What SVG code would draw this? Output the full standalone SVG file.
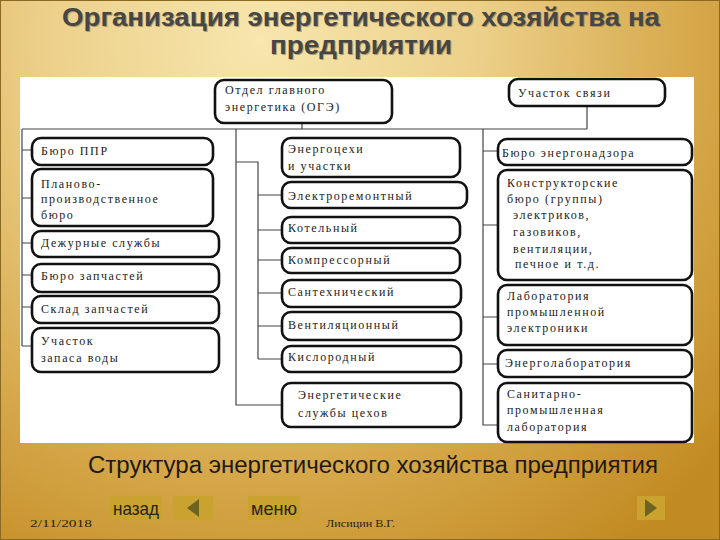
<svg xmlns="http://www.w3.org/2000/svg" width="720" height="540" viewBox="0 0 720 540">
<defs>
<radialGradient id="bg" cx="260" cy="40" r="620" gradientUnits="userSpaceOnUse">
<stop offset="0" stop-color="#f7e6ad"/>
<stop offset="0.35" stop-color="#ecd08a"/>
<stop offset="0.7" stop-color="#d6a84a"/>
<stop offset="1" stop-color="#c28a22"/>
</radialGradient>
<style>
.node rect{fill:#fff;stroke:#111;stroke-width:2.6}
.node text{font-family:"Liberation Serif","DejaVu Serif",serif;font-size:12px;letter-spacing:1.6px;fill:#222}
#connectors path{fill:none;stroke:#444;stroke-width:1.2}
.title{font-family:"Liberation Sans Narrow","Liberation Sans",sans-serif;font-weight:bold;font-size:25px;text-anchor:middle}
.nav{fill:#c9a230}
.navt{font-family:"Liberation Sans Narrow","Liberation Sans",sans-serif;font-size:19px;fill:#2a2410}
.small{font-family:"Liberation Serif",serif;font-size:10px;fill:#2a2410}
</style>
</defs>
<rect x="0" y="0" width="720" height="540" fill="url(#bg)"/>
<rect x="0.5" y="0.5" width="719" height="539" fill="none" stroke="#8a6a22" stroke-width="1"/>
<g id="title">
<text class="title" x="362" y="27" fill="#8a7440" opacity="0.6" textLength="598" lengthAdjust="spacingAndGlyphs">Организация энергетического хозяйства на</text>
<text class="title" x="361" y="26" fill="#464646" textLength="598" lengthAdjust="spacingAndGlyphs">Организация энергетического хозяйства на</text>
<text class="title" x="362" y="55" fill="#8a7440" opacity="0.6" textLength="182" lengthAdjust="spacingAndGlyphs">предприятии</text>
<text class="title" x="361" y="54" fill="#464646" textLength="182" lengthAdjust="spacingAndGlyphs">предприятии</text>
</g>
<rect x="20" y="77" width="674" height="366" fill="#fff"/>
<g id="connectors">
<path d="M302 123V129M22 129H587M587 106V129"/>
<path d="M22 129V346M22 150H32M22 198H32M22 243H32M22 275H32M22 307H32M22 346H32"/>
<path d="M236 129V405H282M236 162H258V359M258 195H282M258 230H282M258 260H282M258 293H282M258 326H282M258 359H282"/>
<path d="M483 129V425H498M483 151H498M483 225H498M483 317H498M483 364H498"/>
</g>
<g id="n-oge" class="node"><rect x="215" y="80" width="177" height="43" rx="9"/><text x="225" y="94">Отдел главного</text><text x="225" y="111">энергетика (ОГЭ)</text></g>
<g id="n-svyaz" class="node"><rect x="509" y="79" width="156" height="27" rx="9"/><text x="518" y="97">Участок связи</text></g>
<g id="n-ppr" class="node"><rect x="32" y="138" width="181" height="27" rx="9"/><text x="41" y="155">Бюро ППР</text></g>
<g id="n-pp" class="node"><rect x="32" y="169" width="181" height="57" rx="9"/><text x="41" y="188">Планово-</text><text x="41" y="203">производственное</text><text x="41" y="219">бюро</text></g>
<g id="n-dezh" class="node"><rect x="32" y="231" width="187" height="26" rx="9"/><text x="41" y="247">Дежурные службы</text></g>
<g id="n-zap" class="node"><rect x="32" y="264" width="187" height="28" rx="9"/><text x="41" y="280">Бюро запчастей</text></g>
<g id="n-sklad" class="node"><rect x="32" y="296" width="187" height="27" rx="9"/><text x="41" y="313">Склад запчастей</text></g>
<g id="n-voda" class="node"><rect x="32" y="328" width="187" height="44" rx="9"/><text x="41" y="345">Участок</text><text x="41" y="362">запаса воды</text></g>
<g id="n-ceh" class="node"><rect x="282" y="138" width="178" height="39" rx="9"/><text x="288" y="153">Энергоцехи</text><text x="288" y="170">и участки</text></g>
<g id="n-elrem" class="node"><rect x="282" y="182" width="185" height="26" rx="9"/><text x="288" y="200">Электроремонтный</text></g>
<g id="n-kotel" class="node"><rect x="282" y="217" width="178" height="26" rx="9"/><text x="288" y="232">Котельный</text></g>
<g id="n-kompr" class="node"><rect x="282" y="248" width="178" height="25" rx="9"/><text x="288" y="264">Компрессорный</text></g>
<g id="n-santeh" class="node"><rect x="282" y="280" width="179" height="27" rx="9"/><text x="288" y="296">Сантехнический</text></g>
<g id="n-vent" class="node"><rect x="282" y="312" width="179" height="28" rx="9"/><text x="288" y="329">Вентиляционный</text></g>
<g id="n-kisl" class="node"><rect x="282" y="346" width="179" height="26" rx="9"/><text x="288" y="361">Кислородный</text></g>
<g id="n-esc" class="node"><rect x="282" y="383" width="179" height="44" rx="9"/><text x="298" y="399">Энергетические</text><text x="298" y="417">службы цехов</text></g>
<g id="n-nadzor" class="node"><rect x="498" y="139" width="194" height="26" rx="9"/><text x="502" y="157">Бюро энергонадзора</text></g>
<g id="n-konstr" class="node"><rect x="498" y="170" width="194" height="110" rx="9"/><text x="507" y="187">Конструкторские</text><text x="507" y="203">бюро (группы)</text><text x="513" y="219">электриков,</text><text x="513" y="236">газовиков,</text><text x="513" y="253">вентиляции,</text><text x="515" y="268">печное и т.д.</text></g>
<g id="n-lab" class="node"><rect x="498" y="285" width="194" height="60" rx="9"/><text x="507" y="300">Лаборатория</text><text x="507" y="316">промышленной</text><text x="507" y="332">электроники</text></g>
<g id="n-elab" class="node"><rect x="498" y="350" width="194" height="27" rx="9"/><text x="505" y="367">Энерголаборатория</text></g>
<g id="n-san" class="node"><rect x="498" y="383" width="194" height="59" rx="9"/><text x="507" y="398">Санитарно-</text><text x="507" y="414">промышленная</text><text x="507" y="431">лаборатория</text></g>
<text x="373" y="473" text-anchor="middle" font-family="'Liberation Sans Narrow','Liberation Sans',sans-serif" font-size="23" fill="#1e1a10" textLength="570" lengthAdjust="spacingAndGlyphs">Структура энергетического хозяйства предприятия</text>
<g id="nav">
<rect class="nav" x="110" y="496" width="52" height="24"/>
<text class="navt" x="136" y="515" text-anchor="middle" textLength="46" lengthAdjust="spacingAndGlyphs">назад</text>
<rect class="nav" x="173" y="496" width="40" height="24"/>
<polygon points="187,508 199,499 199,517" fill="#6e6422"/>
<rect class="nav" x="248" y="496" width="52" height="24"/>
<text class="navt" x="274" y="515" text-anchor="middle" textLength="46" lengthAdjust="spacingAndGlyphs">меню</text>
<rect class="nav" x="637" y="496" width="28" height="24"/>
<polygon points="657,508 645,499 645,517" fill="#6e6422"/>
<text class="small" x="30" y="527" textLength="62" lengthAdjust="spacingAndGlyphs">2/11/2018</text>
<text class="small" x="326" y="527" textLength="69" lengthAdjust="spacingAndGlyphs">Лисицин В.Г.</text>
</g>
</svg>
